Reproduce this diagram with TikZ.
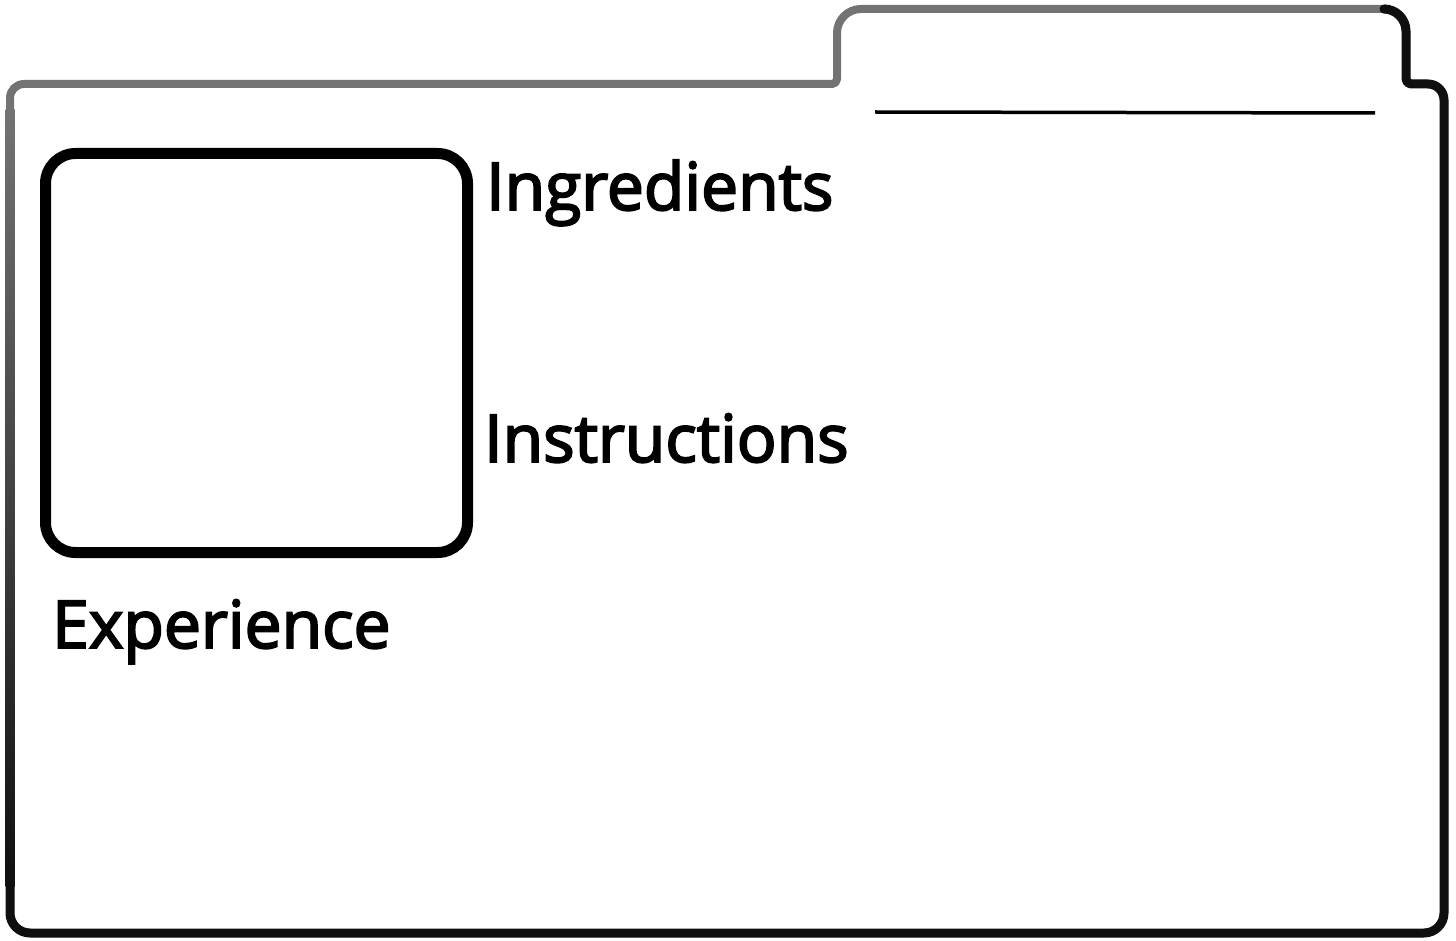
\documentclass[tikz,border=0pt]{standalone}
\usepackage{fontspec}
\setmainfont{Open Sans}
\newfontfamily\lblfont{Open Sans}[FakeBold=3]
\definecolor{rimgray}{rgb}{0.45,0.45,0.45}
\definecolor{rimdark}{rgb}{0.06,0.06,0.06}
\begin{document}
\begin{tikzpicture}[x=1pt,y=-1pt,
  rim/.style={draw=rimgray,line width=8pt,line join=round,line cap=round},
  rimdark/.style={draw=rimdark,line width=9pt,line join=round,line cap=butt},
  label/.style={font=\lblfont\fontsize{66}{72}\selectfont,inner sep=0pt,anchor=base west},
  photo/.style={draw=black,line width=11pt,rounded corners=30pt,minimum width=422pt,minimum height=399pt,inner sep=0pt}]
\useasboundingbox (0,0) rectangle (1456,941);
\fill[white] (0,0) rectangle (1456,941);
% folder outline
\draw[rim] (10,500) [rounded corners=14pt]-- (10,84) [rounded corners=5pt]-- (837,84) [rounded corners=24pt]-- (837,9) -- (1406,9) [rounded corners=5pt]-- (1406,84) [rounded corners=16pt]-- (1444,84) [rounded corners=20pt]-- (1444,933) -- (10,933) -- (10,500);
\shade[top color=rimgray,bottom color=rimdark] (5.5,110) rectangle (14.5,886);
\draw[rimdark] (1385,9) [rounded corners=22pt]-- (1406,9) [rounded corners=5pt]-- (1406,84) [rounded corners=16pt]-- (1444,84) [rounded corners=20pt]-- (1444,933) -- (10,933) -- (10,884);
% name line
\coordinate (l1) at (875,112);
\coordinate (l2) at (1375,113);
\draw[line width=3.5pt] (l1) -- (l2);
% photo box
\node[photo] (photo) at (256.5,353) {};
% labels
\node[label] (ingredients) at (486,210) {Ingredients};
\node[label] (instructions) at (484,462) {Instructions};
\node[label] (experience) at (52,648) {Experience};
\end{tikzpicture}
\end{document}
